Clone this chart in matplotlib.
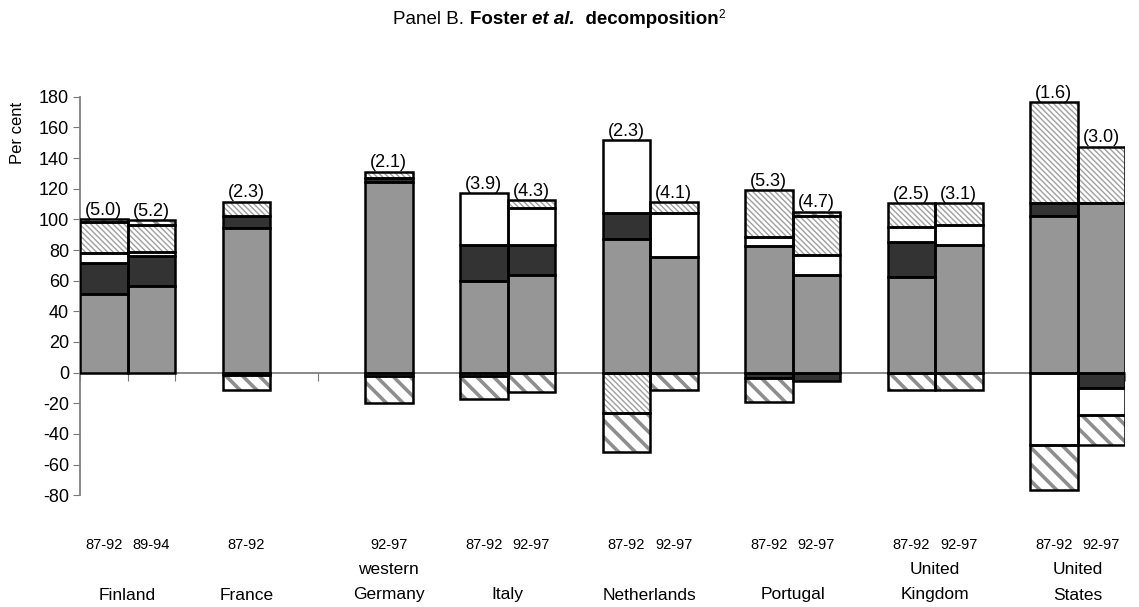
import matplotlib
matplotlib.use("Agg")
import matplotlib.pyplot as plt
from matplotlib import transforms

plt.rcParams['font.family'] = ['Liberation Sans', 'DejaVu Sans']
plt.rcParams['axes.unicode_minus'] = False

# Country groups and the periods shown for each
countries = ["Finland", "France", "western\nGermany", "Italy", "Netherlands",
             "Portugal", "United\nKingdom", "United\nStates"]
periods = [["87-92", "89-94"], ["87-92"], ["92-97"], ["87-92", "92-97"],
           ["87-92", "92-97"], ["87-92", "92-97"], ["87-92", "92-97"],
           ["87-92", "92-97"]]

# Productivity growth shown in brackets above each bar
growth = [5.0, 5.2, 2.3, 2.1, 3.9, 4.3, 2.3, 4.1, 5.3, 4.7, 2.5, 3.1, 1.6, 3.0]

# Foster et al. decomposition components, per cent of total growth
within = [51.0, 56.5, 94.5, 124.5, 60.0, 64.0, 87.0, 75.5, 82.5, 64.0, 62.5, 83.0, 102.0, 110.5]
between = [20.5, 19.5, 8.0, 2.5, 23.0, 19.0, 17.0, 0.0, -3.5, -5.5, 22.5, 0.0, 8.5, -10.0]
cross = [6.5, 2.5, -1.5, -2.5, 34.0, 24.5, 47.5, 28.5, 6.0, 12.5, 10.0, 13.0, -47.0, -17.5]
entry = [20.0, 17.5, 9.0, 4.0, -2.0, 5.0, -26.5, 7.0, 30.5, 25.5, 15.5, 14.5, 66.0, 37.0]
exit_ = [2.0, 3.5, -9.5, -17.5, -15.5, -12.5, -25.0, -11.0, -15.5, 3.0, -11.0, -11.0, -29.5, -20.0]

# First category slot of each country group on a 22-slot axis
group_start = [0, 3, 6, 8, 11, 14, 17, 20]
n_slots = 22

W, H, DPI = 1139, 607, 100
fig = plt.figure(figsize=(W / DPI, H / DPI), dpi=DPI)
ax = fig.add_axes([80 / W, 1 - 495.3 / H, 1045 / W, (495.3 - 96.7) / H])

x = []
for g, per in zip(group_start, periods):
    for k in range(len(per)):
        x.append(g + k + 0.5)

series = [
    (within, "#969696", None, None),
    (between, "#333333", None, None),
    (cross, "white", None, None),
    (entry, "white", "\\" * 6, ("#a0a0a0", 1.0)),
    (exit_, "white", "\\\\", ("#8e8e8e", 2.6)),
]

pos_base = [0.0] * len(x)
neg_base = [0.0] * len(x)
for vals, face, hatch, hstyle in series:
    for i, v in enumerate(vals):
        if v == 0:
            continue
        if v > 0:
            b = pos_base[i]
            pos_base[i] += v
        else:
            b = neg_base[i]
            neg_base[i] += v
        if hatch:
            bars = ax.bar(x[i], v, bottom=b, width=1.0, facecolor=face,
                          hatch=hatch, edgecolor=hstyle[0], linewidth=0, zorder=3)
            for p in bars:
                if hasattr(p, "set_hatch_linewidth"):
                    p.set_hatch_linewidth(hstyle[1])
        else:
            ax.bar(x[i], v, bottom=b, width=1.0, facecolor=face,
                   linewidth=0, zorder=3)
        ax.bar(x[i], v, bottom=b, width=1.0, fill=False, edgecolor="black",
               linewidth=1.8, zorder=4)

# Growth rates above the bars
for xi, top, g in zip(x, pos_base, growth):
    ax.text(xi, top + 0.3, f"({g:.1f})", ha="center", va="bottom",
            fontsize=13, zorder=5)

ax.set_xlim(0, n_slots)
ax.set_ylim(-80, 180)
ax.set_yticks(range(-80, 181, 20))
ax.tick_params(axis="y", labelsize=13, length=5, color="#777777", pad=3)
ax.set_xticks(range(n_slots + 1))
ax.tick_params(axis="x", length=6, direction="out", color="#777777",
               labelbottom=False)
ax.set_axisbelow(True)
for s in ("top", "right"):
    ax.spines[s].set_visible(False)
ax.spines["bottom"].set_position(("data", 0))
ax.spines["bottom"].set_color("#808080")
ax.spines["bottom"].set_linewidth(1.3)
ax.spines["left"].set_color("#808080")
ax.spines["left"].set_linewidth(1.3)

fig.text(18 / W, 1 - 133 / H, "Per cent", rotation=90, ha="center",
         va="center", fontsize=12)

# Period and country labels below the plot
trans = transforms.blended_transform_factory(ax.transData, fig.transFigure)
i = 0
for g, per, name in zip(group_start, periods, countries):
    for k, p in enumerate(per):
        fig.text(x[i], 1 - 545 / H, p, transform=trans, ha="center",
                 va="center", fontsize=10.5)
        i += 1
    cx = g + len(per) / 2.0
    lines = name.split("\n")
    ys = [595] if len(lines) == 1 else [570, 595]
    for ln, yy in zip(lines, ys):
        fig.text(cx, 1 - yy / H, ln, transform=trans, ha="center",
                 va="center", fontsize=12.5)

# Title built from differently styled pieces
pieces = [("Panel B. ", "normal", "normal", 13.5, 0),
          ("Foster ", "bold", "normal", 13.5, 0),
          ("et al.", "bold", "italic", 13.5, 0),
          ("  decomposition", "bold", "normal", 13.5, 0),
          ("2", "normal", "normal", 8.5, 6)]
fig.canvas.draw()
r = fig.canvas.get_renderer()
objs = []
total = 0.0
for txt, wt, st, fs, dy in pieces:
    t = fig.text(0, 0, txt, fontweight=wt, fontstyle=st, fontsize=fs,
                 va="baseline", ha="left")
    w = t.get_window_extent(renderer=r).width
    objs.append((t, w, dy))
    total += w
cx = 559
xpos = cx - total / 2
for t, w, dy in objs:
    t.set_position((xpos / W, 1 - (24 - dy) / H))
    xpos += w

fig.savefig("out.png", dpi=DPI)
